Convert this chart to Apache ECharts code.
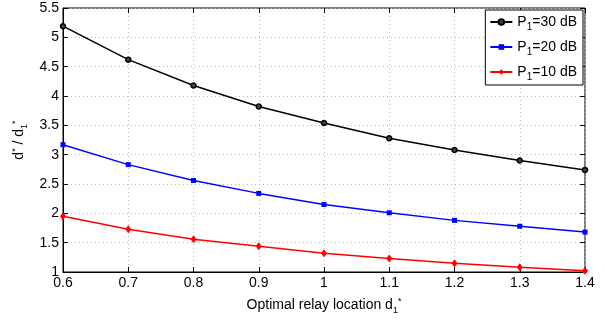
<!DOCTYPE html>
<html>
<head>
<meta charset="utf-8">
<script src="https://cdn.jsdelivr.net/npm/echarts@6/dist/echarts.min.js"></script>
<style>
  html, body { margin: 0; padding: 0; background: #fff; }
  #chart { width: 605px; height: 320px; }
</style>
</head>
<body>
<div id="chart"></div>
<script>
const xValues = [0.6, 0.7, 0.8, 0.9, 1.0, 1.1, 1.2, 1.3, 1.4]
const p30 = [5.19, 4.62, 4.18, 3.82, 3.54, 3.28, 3.08, 2.90, 2.74]
const p20 = [3.17, 2.83, 2.56, 2.34, 2.15, 2.01, 1.88, 1.78, 1.68]
const p10 = [1.95, 1.73, 1.56, 1.44, 1.32, 1.23, 1.15, 1.08, 1.02]
const seriesNames = ['P30', 'P20', 'P10']
const legendLabels = { P30: '30 dB', P20: '20 dB', P10: '10 dB' }

const font = 'Liberation Sans, Arial, sans-serif'
const pairs = (ys) => xValues.map((x, i) => [x, ys[i]])

const chart = echarts.init(document.getElementById('chart'))

const gridLine = { show: true, lineStyle: { color: '#bbb', type: [1, 3], width: 1 } }
const subRich = {
  p: { fontSize: 14, color: '#000', fontFamily: font },
  s: { fontSize: 9, color: '#000', fontFamily: font, padding: [10, 0, 0, 0] },
  u: { fontSize: 9, color: '#000', fontFamily: font, padding: [0, 0, 8, 0] },
}

chart.setOption({
  animation: false,
  textStyle: { fontFamily: font },
  grid: {
    left: 63, right: 20, top: 8, bottom: 45,
    show: true, borderColor: '#000', borderWidth: 1,
  },
  legend: {
    right: 22, top: 10,
    orient: 'vertical',
    backgroundColor: '#fff',
    borderColor: '#000', borderWidth: 1, borderRadius: 0,
    padding: [5, 6, 3, 4],
    itemGap: 8,
    itemWidth: 22, itemHeight: 7,
    data: seriesNames,
    textStyle: {
      color: '#000', fontSize: 14, fontFamily: font,
      rich: {
        p: { fontSize: 14, fontFamily: font, color: '#000' },
        s: { fontSize: 10, fontFamily: font, color: '#000', padding: [10, 0, 0, 0] },
      },
    },
    formatter: (name) => `{p|P}{s|1}{p|=${legendLabels[name]}}`,
  },
  xAxis: [
    {
      type: 'value', min: 0.6, max: 1.4, interval: 0.1,
      axisLine: { show: true, lineStyle: { color: '#000' } },
      axisTick: { inside: true, length: 5, lineStyle: { color: '#000' } },
      axisLabel: { color: '#000', fontSize: 14, margin: 4, formatter: (v) => String(+v.toFixed(1)) },
      splitLine: gridLine,
      name: '{p|Optimal relay location d}{s|1}{u|*}',
      nameLocation: 'middle', nameGap: 24,
      nameTextStyle: { rich: subRich },
    },
    {
      type: 'value', position: 'top', min: 0.6, max: 1.4, interval: 0.1,
      axisLine: { show: false },
      axisTick: { inside: true, length: 5, lineStyle: { color: '#000' } },
      axisLabel: { show: false }, splitLine: { show: false },
    },
  ],
  yAxis: [
    {
      type: 'value', min: 1, max: 5.5, interval: 0.5,
      axisLine: { show: true, lineStyle: { color: '#000' } },
      axisTick: { inside: true, length: 5, lineStyle: { color: '#000' } },
      axisLabel: { color: '#000', fontSize: 14, margin: 4 },
      splitLine: gridLine,
      name: '{p|d}{u|*}{p| / d}{s|1}{u|*}',
      nameLocation: 'middle', nameGap: 32, nameRotate: 90,
      nameTextStyle: { rich: subRich },
    },
    {
      type: 'value', position: 'right', min: 1, max: 5.5, interval: 0.5,
      axisLine: { show: false },
      axisTick: { inside: true, length: 5, lineStyle: { color: '#000' } },
      axisLabel: { show: false }, splitLine: { show: false },
    },
  ],
  series: [
    {
      name: 'P30', type: 'line', data: pairs(p30),
      symbol: 'circle', symbolSize: 5,
      lineStyle: { color: '#000', width: 1.5 },
      itemStyle: { color: '#444', borderColor: '#000', borderWidth: 1.5 },
    },
    {
      name: 'P20', type: 'line', data: pairs(p20),
      symbol: 'rect', symbolSize: 5,
      lineStyle: { color: '#0000ff', width: 1.5 },
      itemStyle: { color: '#0000ff' },
    },
    {
      name: 'P10', type: 'line', data: pairs(p10),
      symbol: 'diamond', symbolSize: [6, 8],
      lineStyle: { color: '#ff0000', width: 1.5 },
      itemStyle: { color: '#ff0000' },
    },
  ],
})
</script>
</body>
</html>
